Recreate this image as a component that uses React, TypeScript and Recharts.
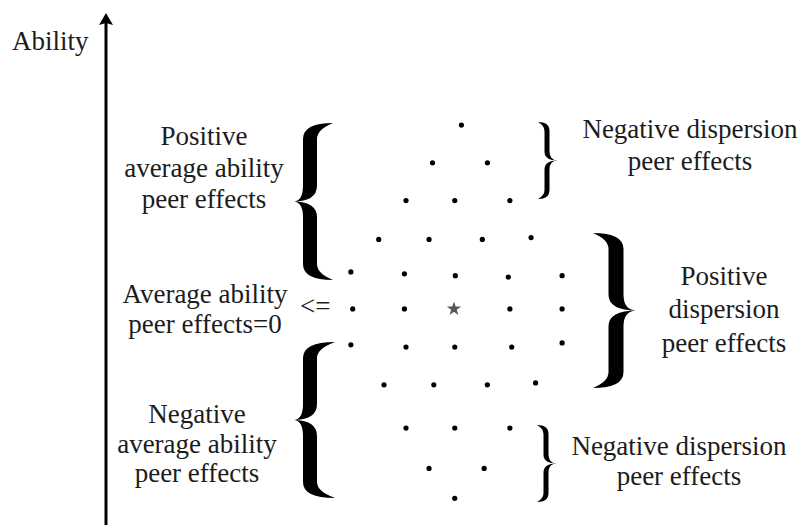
import React from 'react';
import { ScatterChart, Scatter, XAxis, YAxis, Customized } from 'recharts';

// dispersion position (half-steps from the centre) and ability level of each dot
const dispersion = [
  0.2,
  -0.89, 1.18,
  -1.89, -0.05, 2.03,
  -2.92, -1.02, 0.99, 2.83,
  -3.97, -1.95, -0.03, 1.97, 4.0,
  -3.9, -1.95, 2.03, 4.0,
  -3.97, -1.89, -0.05, 2.1, 4.0,
  -2.72, -0.84, 1.18, 3.0,
  -1.89, -0.05, 2.03,
  -1.02, 1.06,
  -0.05,
];
const ability = [
  4.97,
  3.95, 3.95,
  2.93, 2.93, 2.93,
  1.88, 1.88, 1.88, 1.93,
  1.0, 0.95, 0.9, 0.86, 0.9,
  0, 0, 0, 0,
  -0.97, -1.03, -1.03, -1.03, -0.92,
  -2.05, -2.05, -2.05, -2.0,
  -3.22, -3.22, -3.22,
  -4.31, -4.31,
  -5.12,
];
const centre = [{ x: -0.08, y: 0 }];

const leftLabels = [
  ['Positive', 'average ability', 'peer effects'],
  ['Average ability', 'peer effects=0'],
  ['Negative', 'average ability', 'peer effects'],
];
const rightLabels = [
  ['Negative dispersion', 'peer effects'],
  ['Positive', 'dispersion', 'peer effects'],
  ['Negative dispersion', 'peer effects'],
];

const dots = dispersion.map((x, i) => ({ x, y: ability[i] }));

const FONT = '"Liberation Serif", "Times New Roman", serif';
const FS = 27;

// filled calligraphic brace; dir -1 = tip to the left, 1 = tip to the right
function bracePath(s: number, yTop: number, yBot: number, dir: number, tip: number, end: number, th: number, r: number) {
  const X = (u: number) => s + dir * u;
  const m = (yTop + yBot) / 2;
  const t = th / 2;
  return [
    `M ${X(-end)} ${yTop}`,
    `Q ${X(t)} ${yTop} ${X(t)} ${yTop + r}`,
    `L ${X(t)} ${m - r}`,
    `Q ${X(t)} ${m} ${X(tip)} ${m}`,
    `Q ${X(t)} ${m} ${X(t)} ${m + r}`,
    `L ${X(t)} ${yBot - r}`,
    `Q ${X(t)} ${yBot} ${X(-end)} ${yBot}`,
    `Q ${X(-t)} ${yBot - r * 0.4} ${X(-t)} ${yBot - r}`,
    `L ${X(-t)} ${m + r}`,
    `Q ${X(-t)} ${m} ${X(tip)} ${m}`,
    `Q ${X(-t)} ${m} ${X(-t)} ${m - r}`,
    `L ${X(-t)} ${yTop + r}`,
    `Q ${X(-t)} ${yTop + r * 0.4} ${X(-end)} ${yTop}`,
    'Z',
  ].join(' ');
}

const Block = ({ lines, x, ys }: { lines: string[]; x: number; ys: number[] }) => (
  <g>
    {lines.map((l, i) => (
      <text key={i} x={x} y={ys[i]} textAnchor="middle" fontFamily={FONT} fontSize={FS} fill="#1c1c1c">
        {l}
      </text>
    ))}
  </g>
);

const Annotations = () => (
  <g>
    {/* ability axis */}
    <line x1={106} y1={22} x2={106} y2={525} stroke="#000" strokeWidth={3} />
    <path d="M 106 13 L 113 25 L 106 23 L 99 25 Z" fill="#000" />
    <text x={12} y={50} fontFamily={FONT} fontSize={FS} fill="#1c1c1c">Ability</text>

    <Block lines={leftLabels[0]} x={204} ys={[145, 177, 208]} />
    <Block lines={leftLabels[1]} x={205} ys={[303, 333]} />
    <text x={300} y={315} fontFamily={FONT} fontSize={FS} fill="#1c1c1c">{'<='}</text>
    <Block lines={leftLabels[2]} x={197} ys={[423, 453, 482]} />

    <Block lines={rightLabels[0]} x={690} ys={[138, 170]} />
    <Block lines={rightLabels[1]} x={724} ys={[285, 318, 352]} />
    <Block lines={rightLabels[2]} x={679} ys={[455, 485]} />

    <path d={bracePath(310, 123, 280, -1, 17, 23, 14, 16)} fill="#000" />
    <path d={bracePath(310, 342, 498, -1, 17, 25, 14, 16)} fill="#000" />
    <path d={bracePath(547, 122, 199, 1, 11, 9, 5, 9)} fill="#000" />
    <path d={bracePath(546, 425, 502, 1, 11, 9, 5, 9)} fill="#000" />
    <path d={bracePath(616, 233, 388, 1, 21, 23, 15, 16)} fill="#000" />
  </g>
);

export default function App() {
  return (
    <div style={{ position: 'absolute', left: 0, top: 0, background: '#fff' }}>
      <ScatterChart width={803} height={525} margin={{ top: 0, right: 0, bottom: 0, left: 0 }}>
        <XAxis type="number" dataKey="x" domain={[-17.21, 13.09]} allowDataOverflow hide />
        <YAxis type="number" dataKey="y" domain={[-5.84, 8.35]} allowDataOverflow hide />
        <Scatter data={dots} fill="#000" isAnimationActive={false}
          shape={(p: any) => <circle cx={p.cx} cy={p.cy} r={2.6} fill="#000" />} />
        <Scatter data={centre} fill="#555" isAnimationActive={false} shape="star" legendType="none" size={28} />
        <Customized component={Annotations} />
      </ScatterChart>
    </div>
  );
}
